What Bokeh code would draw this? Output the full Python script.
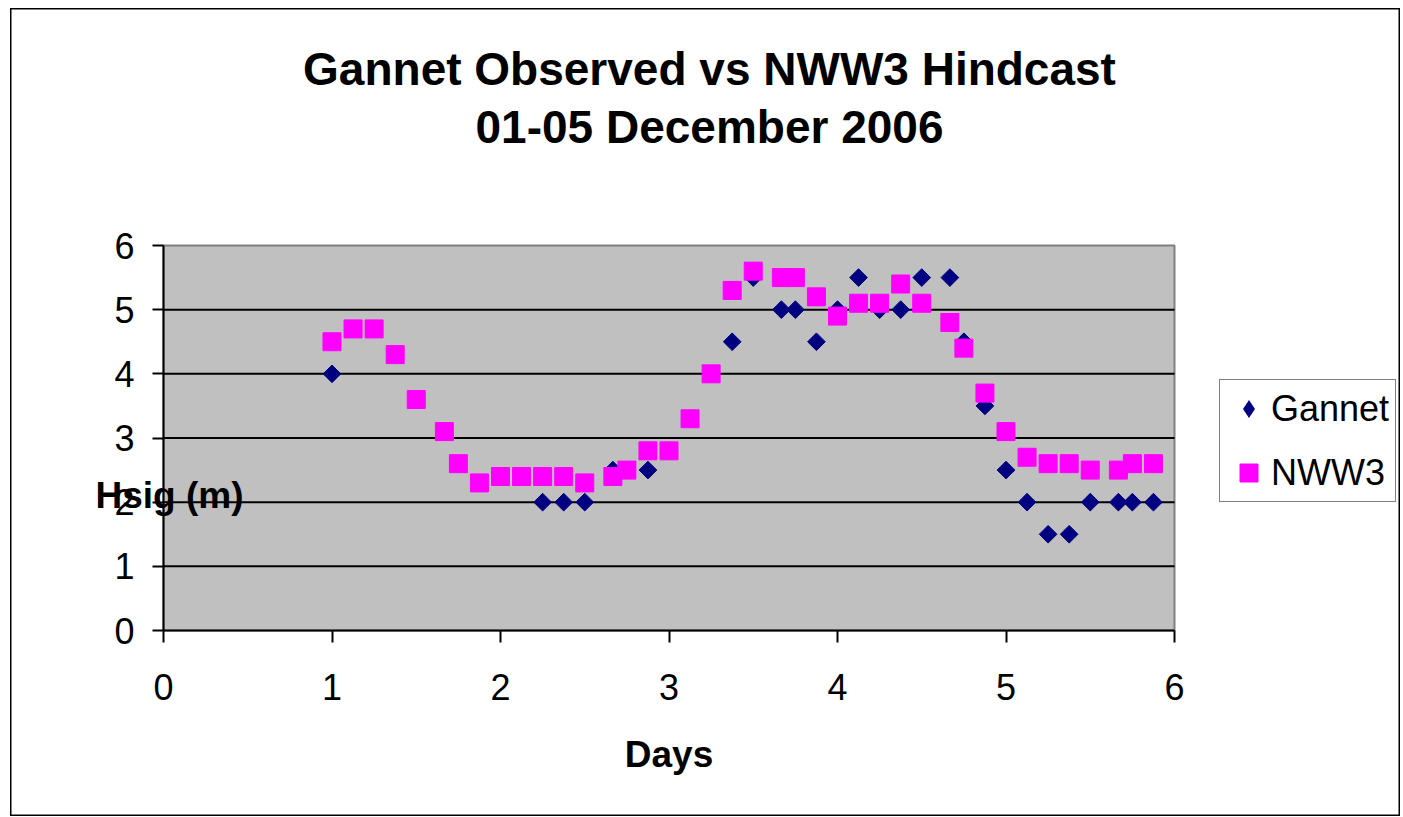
from bokeh.plotting import figure
from bokeh.models import Range1d, FixedTicker, Label, Legend, LegendItem, ColumnDataSource
from bokeh.embed import file_html
from bokeh.resources import INLINE
import numpy as np

# ---- data ----
nww3_days = [1.0, 1.125, 1.25, 1.375, 1.5, 1.667, 1.75, 1.875, 2.0, 2.125, 2.25, 2.375, 2.5,
             2.667, 2.75, 2.875, 3.0, 3.125, 3.25, 3.375, 3.5, 3.667, 3.75, 3.875, 4.0,
             4.125, 4.25, 4.375, 4.5, 4.667, 4.75, 4.875, 5.0, 5.125, 5.25, 5.375, 5.5,
             5.667, 5.75, 5.875]
nww3_hs = [4.5, 4.7, 4.7, 4.3, 3.6, 3.1, 2.6, 2.3, 2.4, 2.4, 2.4, 2.4, 2.3,
           2.4, 2.5, 2.8, 2.8, 3.3, 4.0, 5.3, 5.6, 5.5, 5.5, 5.2, 4.9,
           5.1, 5.1, 5.4, 5.1, 4.8, 4.4, 3.7, 3.1, 2.7, 2.6, 2.6, 2.5,
           2.5, 2.6, 2.6]
gannet_days = [1.0, 2.25, 2.375, 2.5, 2.667, 2.875, 3.375, 3.5, 3.667, 3.75, 3.875, 4.0,
               4.125, 4.25, 4.375, 4.5, 4.667, 4.75, 4.875, 5.0, 5.125, 5.25, 5.375,
               5.5, 5.667, 5.75, 5.875]
gannet_hs = [4.0, 2.0, 2.0, 2.0, 2.5, 2.5, 4.5, 5.5, 5.0, 5.0, 4.5, 5.0,
             5.5, 5.0, 5.0, 5.5, 5.5, 4.5, 3.5, 2.5, 2.0, 1.5, 1.5,
             2.0, 2.0, 2.0, 2.0]
tick_values = [0, 1, 2, 3, 4, 5, 6]
grid_values = [1, 2, 3, 4, 5]
title_lines = ["Gannet Observed vs NWW3 Hindcast", "01-05 December 2006"]
x_title = "Days"
y_title = "Hsig (m)"
series_names = ["Gannet", "NWW3"]

# ---- layout (pixels) ----
FONT = "Liberation Sans"
NAVY = "#000080"
MAGENTA = "#FF00FF"
W, H = 1390, 808            # whole chart (canvas == frame)
PA_LEFT, PA_TOP = 153, 237  # plot-area offset inside the canvas
PA_W, PA_H = 1011, 385      # plot-area size
vmin, vmax = min(tick_values), max(tick_values)
sx = PA_W / (vmax - vmin)
sy = PA_H / (vmax - vmin)
x_range = Range1d(vmin - PA_LEFT / sx, vmin + (W - PA_LEFT) / sx)
y_range = Range1d(vmin - (H - PA_TOP - PA_H) / sy, vmax + PA_TOP / sy)

p = figure(frame_width=W, frame_height=H, min_border=0,
           x_range=x_range, y_range=y_range,
           output_backend="svg", toolbar_location=None,
           background_fill_color="white", border_fill_color="white")
p.styles = {"margin-left": "10px", "margin-top": "8px"}
p.outline_line_color = "black"
p.outline_line_width = 2

# grey plot area and its horizontal grid lines
p.quad(left=[vmin], right=[vmax], bottom=[vmin], top=[vmax],
       fill_color="#C0C0C0", line_color="#808080", line_width=2, level="image")
p.segment(x0=vmin, x1=vmax, y0=grid_values, y1=grid_values,
          line_color="black", line_width=2, level="underlay")

p.xgrid.visible = False
p.ygrid.visible = False

for ax in (p.xaxis[0], p.yaxis[0]):
    ax.ticker = FixedTicker(ticks=tick_values)
    ax.fixed_location = vmin
    ax.bounds = (vmin, vmax)
    ax.axis_line_color = "black"
    ax.axis_line_width = 2
    ax.major_tick_line_color = "black"
    ax.major_tick_line_width = 2
    ax.major_tick_in = 0
    ax.minor_tick_line_color = None
    ax.major_label_text_font = FONT
    ax.major_label_text_font_size = "36px"
    ax.major_label_text_color = "black"

p.xaxis.major_tick_out = 12
p.xaxis.major_label_standoff = 31
p.xaxis.axis_label = x_title
p.xaxis.axis_label_text_font = FONT
p.xaxis.axis_label_text_font_style = "bold"
p.xaxis.axis_label_text_font_size = "37px"
p.xaxis.axis_label_standoff = 31
p.xaxis.axis_label_text_color = "black"

p.yaxis.major_tick_out = 11
p.yaxis.major_label_standoff = 18

src_g = ColumnDataSource(dict(x=gannet_days, y=gannet_hs))
src_n = ColumnDataSource(dict(x=nww3_days, y=nww3_hs))

# legend symbol for the observed series (diamond); zero size so it adds nothing to the plot
lg = p.scatter("x", "y", source=src_g, marker="diamond", size=0,
               fill_color=NAVY, line_color=None)
p.scatter("x", "y", source=src_g, marker="square", size=12.5, angle=np.pi / 4,
          fill_color=NAVY, line_color=NAVY)
rn = p.scatter("x", "y", source=src_n, marker="square", size=18,
               fill_color=MAGENTA, line_color=MAGENTA)

# titles and horizontal y-axis title (screen px from canvas bottom-left)
for txt, ty in ((title_lines[0], H - 60), (title_lines[1], H - 118)):
    p.add_layout(Label(x=699, y=ty, x_units="screen", y_units="screen", text=txt,
                       text_align="center", text_baseline="middle", text_font=FONT,
                       text_font_style="bold", text_font_size="46px", text_color="black"))
p.add_layout(Label(x=85, y=H - 487, x_units="screen", y_units="screen", text=y_title,
                   text_align="left", text_baseline="middle", text_font=FONT,
                   text_font_style="bold", text_font_size="37px", text_color="black"))

legend = Legend(items=[LegendItem(label=series_names[0], renderers=[lg]),
                       LegendItem(label=series_names[1], renderers=[rn])],
                location=(1209, H + 8 - 502))
legend.label_text_font = FONT
legend.label_text_font_size = "36px"
legend.label_text_color = "black"
legend.label_height = 45
legend.glyph_height = 45
legend.glyph_width = 45
legend.spacing = 19
legend.padding = 6
legend.margin = 0
legend.label_standoff = 0
legend.border_line_color = "black"
legend.border_line_width = 1.5
legend.background_fill_color = "white"
legend.background_fill_alpha = 1
p.add_layout(legend, "center")

open("out.html", "w").write(file_html(p, INLINE))
